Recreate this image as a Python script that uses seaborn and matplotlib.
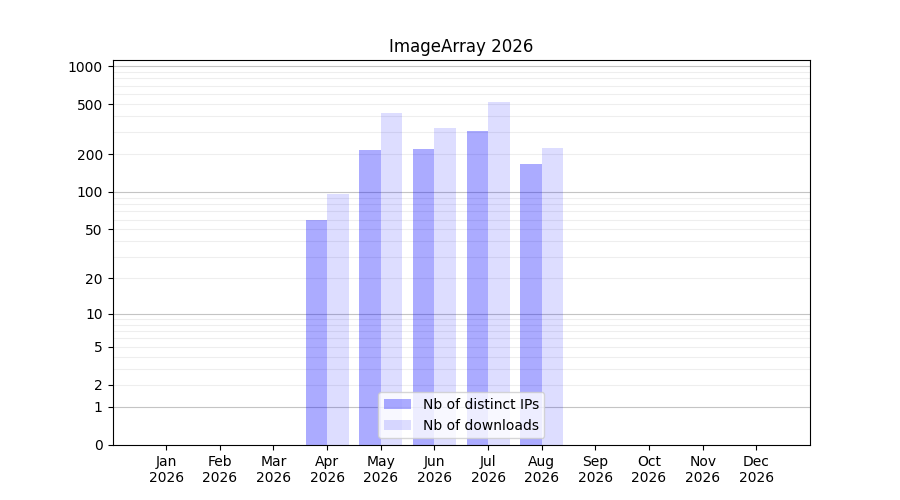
import numpy as np
import pandas as pd
import matplotlib
matplotlib.use("Agg")
import matplotlib.pyplot as plt
import seaborn as sns

months = ['Jan', 'Feb', 'Mar', 'Apr', 'May', 'Jun',
          'Jul', 'Aug', 'Sep', 'Oct', 'Nov', 'Dec']
year = '2026'
ips = [0, 0, 0, 60, 216, 220, 305, 167, 0, 0, 0, 0]
downloads = [0, 0, 0, 96, 425, 323, 519, 224, 0, 0, 0, 0]
series = ['Nb of distinct IPs', 'Nb of downloads']
alphas = [0.33, 0.135]

ytick_vals = [0, 1, 2, 5, 10, 20, 50, 100, 200, 500, 1000]
major_grid = [1, 10, 100, 1000]
minor_grid = [m * d for d in [1, 10, 100] for m in range(2, 10)]

labels = [m + '\n' + year for m in months]
df = pd.DataFrame({
    'month': labels * 2,
    'value': ips + downloads,
    'serie': [series[0]] * 12 + [series[1]] * 12,
})

fig, ax = plt.subplots(figsize=(9, 5), dpi=100)
sns.barplot(data=df, x='month', y='value', hue='serie',
            palette=['blue', 'blue'], saturation=1, width=0.8, ax=ax)

for cont, a in zip(ax.containers, alphas):
    for p in cont:
        p.set_alpha(a)
        p.set_edgecolor('none')

fwd = lambda v: np.log10(np.asarray(v, dtype=float) + 1)
inv = lambda v: 10 ** np.asarray(v, dtype=float) - 1
ax.set_yscale('function', functions=(fwd, inv))
ax.set_ylim(0, 1120)
ax.set_xlim(-1, 12)

ax.set_yticks(ytick_vals)
ax.set_yticklabels([str(v) for v in ytick_vals])
ax.yaxis.set_minor_locator(matplotlib.ticker.NullLocator())

# grid: dark on decades, light on the rest
for g in minor_grid:
    ax.axhline(g, color='#eeeeee', lw=0.8, zorder=0.5)
for g in major_grid:
    ax.axhline(g, color='#c4c4c4', lw=0.8, zorder=0.5)

ax.set_xlabel('')
ax.set_ylabel('')
ax.set_title('ImageArray ' + year)
ax.legend(handles=list(ax.containers), labels=series, loc='lower center')

fig.savefig('out.png', dpi=100)
